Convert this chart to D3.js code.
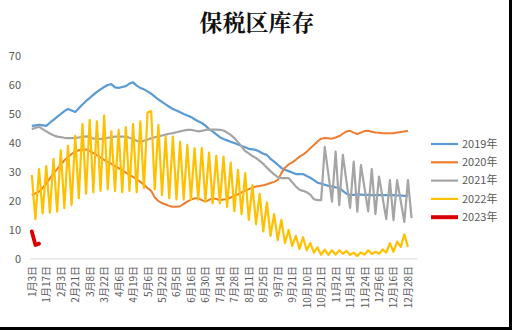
<!DOCTYPE html>
<html><head><meta charset="utf-8">
<script src="https://cdn.jsdelivr.net/npm/d3@7"></script>
<style>body{margin:0;background:#000}svg{display:block}</style>
</head><body><svg id="c" width="512" height="330"></svg>
<script>
const title = "保税区库存";
const seriesNames = ["2019年","2020年","2021年","2022年","2023年"];
const categoryCount = 107;
const tickLabels = ["1月3日","1月17日","2月3日","2月21日","3月8日","3月22日","4月6日","4月19日","5月6日","5月22日","6月5日","6月16日","6月30日","7月14日","7月28日","8月11日","8月25日","9月7日","9月21日","10月10日","10月21日","11月2日","11月14日","11月24日","12月6日","12月16日","12月28日"];
const yTicks = [0,10,20,30,40,50,60,70];

const s2019 = [45.9,46.1,46.3,46.1,45.9,47,48,49,50,51,
 51.7,51.2,50.7,52,53.3,54.5,55.5,56.6,57.6,58.5,
 59.3,60,60.3,59.2,59,59.3,59.6,60.5,60.9,59.8,
 59,58.5,57.8,57,56,55,54.2,53.3,52.5,51.7,
 51.2,50.6,50,49.5,49,48.2,47.5,46.9,46,44.8,
 44,43,42,41.4,40.9,40.4,40,39.5,39,38.5,
 38,37.8,37.6,37,36.3,35.9,34.5,33.6,32.5,31.4,
 30.8,30.3,29.8,29.3,29.3,29.3,28.6,28,27.2,26.3,
 26,25.6,25.2,25,24.7,24.5,23.5,22.5,22.1,22.1,
 22.3,22.2,22.1,22.1,22,22,22,22,22,22,
 22,21.9,21.9,21.8,21.8];
const s2020 = [22,22.6,23.2,24.5,26,27.8,29.5,31,32.5,34,
 35.2,36.2,37,37.5,37.7,37.8,37.3,36.5,35.8,35,
 34.2,33.5,32.8,32,31.3,30.6,29.8,29,28.3,27.5,
 26.6,25.6,24.5,23.5,21.2,20,19.3,18.8,18.3,18,
 18,18.2,19,19.8,20.5,20.9,21,20.3,19.8,20.4,
 21,20.7,20.3,20.5,20.7,21.2,21.8,22.3,23,23.6,
 24.1,24.6,25,25.2,25.4,25.8,26.2,26.6,27.2,29.6,
 31.5,32.6,33.3,34.2,35.3,36,37,38.2,39.3,40.5,
 41.5,41.7,41.6,41.5,41.9,42.4,43.2,44,44.2,43.6,
 43.1,43.6,44.1,44.2,43.9,43.6,43.5,43.4,43.4,43.4,
 43.4,43.6,43.8,44,44.2];
const s2021 = [44.8,45.2,45.6,44.8,44,43.3,42.7,42.2,42,41.8,
 41.7,41.7,41.7,41.9,42.1,42.3,42.2,41.5,41.4,41.4,
 41.5,41.8,42,42.2,42.2,42.2,42.2,41.8,41.3,40.8,
 40.3,40.8,41.2,41.6,42,42.3,42.6,42.9,43.2,43.4,
 43.7,44,44.3,44.5,44.5,44.3,44,44.2,44.5,44.6,
 44.6,44.6,44.5,44.3,43.6,42.8,41.7,40.3,38.8,37.2,
 36.4,35.5,34.8,33.8,32.8,31.5,30.3,29.2,28.2,27.9,
 27.9,27.9,26.5,25,23.9,23.5,23,22.2,20.6,20.3,
 20.3,38.7,29.2,19.8,37,18.6,35.9,26.7,17.6,33.6,
 16.3,32.4,24.4,16.4,31,15.5,28.4,21.1,13.8,27.2,
 13.4,27.2,20,12.8,27.2,14.1];
const s2022 = [29,13.7,31,15.7,32,16,34.5,16.3,37.5,17.5,
 39,18.6,42.5,21,46.5,22.5,48,23,47.5,23.5,
 49.5,24,44,23.5,44.5,23,45.5,23.5,46.5,23,
 47.5,24.5,50.5,51,24,46.2,22,42.2,21,42.2,
 20.5,40.4,20.5,39.3,20.5,38.2,20.5,38.2,19.8,36.7,
 19.2,35.6,19.2,35.3,18,33.2,16.5,30.7,15.5,29.6,
 13.5,25.5,12,22.5,9.5,19.5,8,15.5,6.5,13.5,
 5.5,10,4.5,8,3.5,7.5,3,5.5,2.2,4,
 1.5,3.2,1.4,3,1.5,3,1.8,2.8,1.4,2.2,
 1,2.3,1.5,3,1.7,2.5,1.8,3.3,2.2,5.5,
 2.5,6,4.2,8.5,4.2];
const s2023 = [9.5,4.8,5.3];

const allSeries = [s2019,s2020,s2021,s2022,s2023];
const colors = ["#5B9BD5","#ED7D31","#A5A5A5","#FFC000","#D90000"];
const widths = [2.2,2,2.2,2.2,3.8];

const svg = d3.select("#c");
svg.append("rect").attr("x",0).attr("y",0).attr("width",509).attr("height",327).attr("fill","#fff");

const x = d3.scalePoint().domain(d3.range(categoryCount)).range([30,417]).padding(0.5);
const y = d3.scaleLinear().domain([0,70]).range([259,56]);

svg.append("text").attr("x",257).attr("y",31).attr("text-anchor","middle")
  .style("font-family","'Noto Serif CJK SC','Noto Sans CJK SC',sans-serif")
  .style("font-size","23px").style("font-weight","700").attr("fill","#111").text(title);

// y axis
const ya = svg.append("g").attr("transform","translate(30,0)")
  .call(d3.axisLeft(y).tickValues(yTicks).tickSize(0).tickPadding(9));
ya.select(".domain").remove();
ya.selectAll("text").style("font-family","'Noto Sans CJK SC',sans-serif").style("font-size","11px").attr("fill","#595959");

// x axis
const labelIdx = tickLabels.map((d,i)=>i*4);
const xa = svg.append("g").attr("transform","translate(0,259)")
  .call(d3.axisBottom(x).tickValues(labelIdx).tickFormat(i=>tickLabels[i/4]).tickSize(0));
xa.select(".domain").attr("stroke","#D9D9D9").attr("d","M30,0H417");
xa.selectAll("text").attr("transform","rotate(-90)").attr("x",-7).attr("y",0).attr("dy","0.35em")
  .style("text-anchor","end").style("font-family","'Noto Sans CJK SC',sans-serif").style("font-size","10px").attr("fill","#595959");

const line = d3.line().defined(d=>d!=null).x((d,i)=>x(i)).y(d=>y(d));
allSeries.forEach((s,k)=>{
  svg.append("path").datum(s).attr("d",line).attr("fill","none")
    .attr("stroke",colors[k]).attr("stroke-width",widths[k]).attr("stroke-linejoin","round").attr("stroke-linecap", k===4?"round":"butt");
});

// legend
const lg = svg.append("g");
seriesNames.forEach((n,k)=>{
  const yy = 144 + k*18.3;
  lg.append("line").attr("x1",431).attr("x2",458).attr("y1",yy).attr("y2",yy).attr("stroke",colors[k]).attr("stroke-width",k===4?4:2.2);
  lg.append("text").attr("x",462).attr("y",yy).attr("dy","0.35em").style("font-family","'Noto Sans CJK SC',sans-serif")
    .style("font-size","11px").attr("fill","#595959").text(n);
});
</script></body></html>
